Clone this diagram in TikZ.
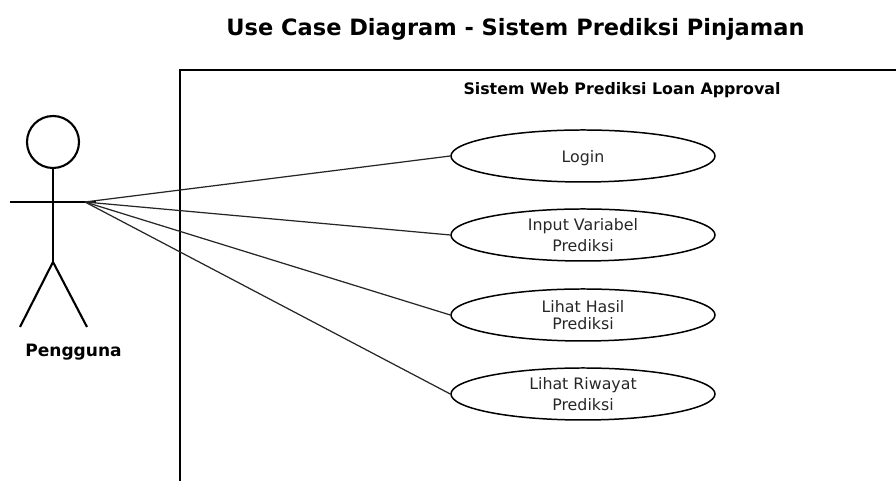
\documentclass[tikz,border=0pt]{standalone}
\usepackage{fontspec}
\setmainfont{DejaVu Sans}
\usetikzlibrary{shapes.geometric}
\tikzset{
  usecase/.style={draw, ellipse, line width=0.85pt, minimum width=5.28cm, minimum height=1.04cm, inner sep=0pt, align=center, font=\fontsize{9}{11}\selectfont, text=black!85, execute at begin node=\rule{0pt}{8.8pt}},
  actorline/.style={line width=1.2pt},
  assoc/.style={line width=0.7pt, black!85},
  boldlabel/.style={font=\fontsize{9}{11}\selectfont\bfseries}
}
\begin{document}
\begin{tikzpicture}[scale=2] %1 unit = 100 px of the reference
	\useasboundingbox (0,0) rectangle (8.96,4.81);
	%Title
	\node[font=\fontsize{12.8}{15}\selectfont\bfseries] (title) at (5.155,4.52) {Use Case Diagram - Sistem Prediksi Pinjaman};
	%System frame
	\coordinate (framebottom) at (1.80,0);
	\coordinate (framecorner) at (1.80,4.11);
	\coordinate (frameright) at (8.96,4.11);
	\draw[line width=1.4pt] (framebottom) -- (framecorner) -- (frameright);
	\node[boldlabel] (system) at (6.22,3.91) {Sistem Web Prediksi Loan Approval};
	%Actor
	\node[draw, circle, actorline, minimum size=1.04cm, inner sep=0pt] (head) at (0.53,3.39) {};
	\coordinate (armleft) at (0.10,2.79);
	\coordinate (armright) at (0.96,2.79);
	\coordinate (hip) at (0.53,2.19);
	\coordinate (footleft) at (0.20,1.54);
	\coordinate (footright) at (0.87,1.54);
	\draw[actorline] (head.south) -- (hip);
	\draw[actorline] (armleft) -- (armright);
	\draw[actorline] (footleft) -- (hip) -- (footright);
	\node[font=\fontsize{9.7}{11}\selectfont\bfseries] (actor) at (0.735,1.285) {Pengguna};
	%Use cases
	\node[usecase] (login) at (5.83,3.25) {Login};
	\node[usecase] (input) at (5.83,2.46) {Input Variabel\\[0.6pt]Prediksi};
	\node[usecase] (hasil) at (5.83,1.66) {Lihat Hasil\\[-1.2pt]Prediksi};
	\node[usecase] (riwayat) at (5.83,0.87) {Lihat Riwayat\\[0.9pt]Prediksi};
	%Associations
	\coordinate (hand) at (0.85,2.79);
	\draw[assoc] (hand) -- (login.west);
	\draw[assoc] (hand) -- (input.west);
	\draw[assoc] (hand) -- (hasil.west);
	\draw[assoc] (hand) -- (riwayat.west);
\end{tikzpicture}
\end{document}
